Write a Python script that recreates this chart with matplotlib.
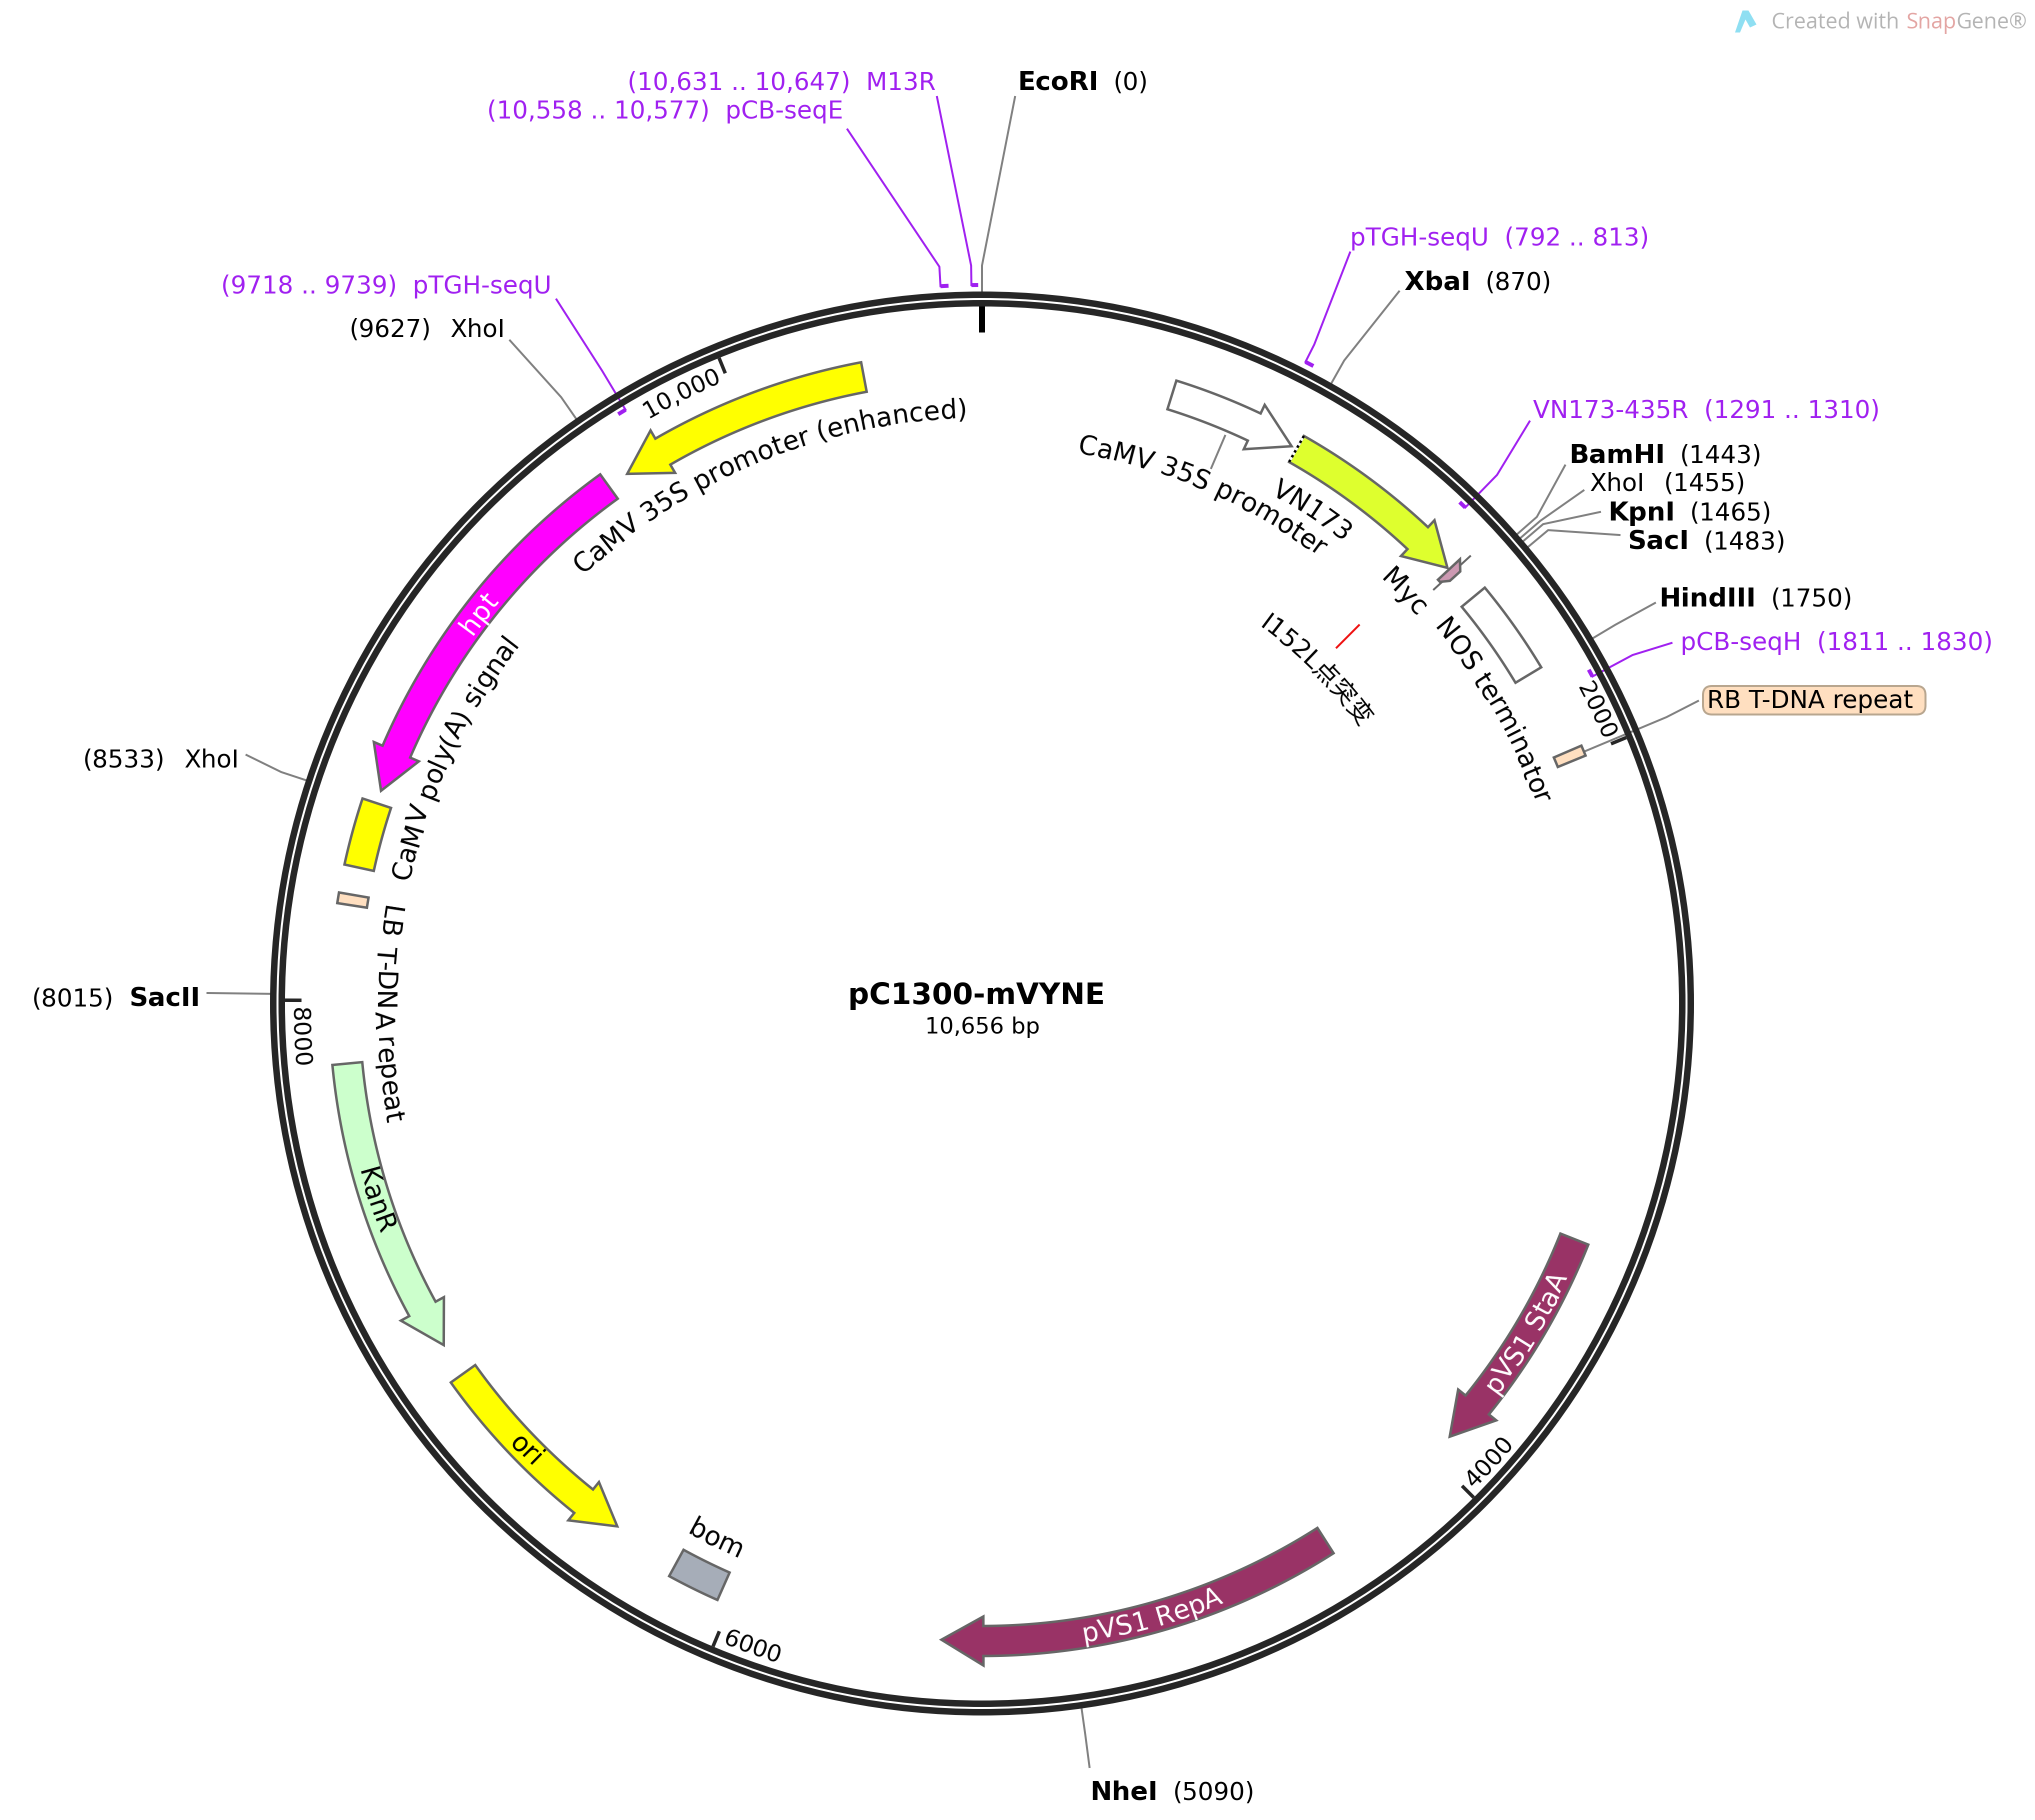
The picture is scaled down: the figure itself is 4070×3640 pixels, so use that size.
# pC1300-mVYNE plasmid map

import numpy as np
import matplotlib
matplotlib.use("Agg")
import matplotlib.pyplot as plt
from matplotlib.font_manager import FontProperties, findfont, get_font
from matplotlib.ft2font import LoadFlags
from matplotlib.patches import Circle, FancyBboxPatch, Polygon

plt.rcParams["font.family"] = ["DejaVu Sans", "Noto Sans CJK SC"]

plasmid_name = "pC1300-mVYNE"
plasmid_size = 10656
size_label = "10,656 bp"

# features, arrows run from start to end
arrow_names = ["CaMV 35S promoter (enhanced)", "hpt", "KanR", "ori", "pVS1 RepA",
               "pVS1 StaA", "CaMV 35S promoter", "VN173"]
arrow_start = [10340, 9596, 7832, 6941, 4363, 3306, 513, 875]
arrow_end = [9655, 8569, 7033, 6361, 5436, 3931, 860, 1388]
arrow_colors = ["#ffff00", "#ff00ff", "#ccffcc", "#ffff00", "#993366", "#993366", "#ffffff", "#deff2e"]

box_names = ["CaMV poly(A) signal", "LB T-DNA repeat", "bom", "NOS terminator", "RB T-DNA repeat"]
box_start = [8356, 8254, 6036, 1492, 1975]
box_end = [8534, 8282, 6176, 1746, 2003]
box_colors = ["#ffff00", "#ffdfc0", "#a6adb8", "#ffffff", "#ffdfc0"]

# restriction sites
site_names = ["EcoRI", "XbaI", "BamHI", "XhoI", "KpnI", "SacI", "HindIII", "NheI", "SacII", "XhoI", "XhoI"]
site_pos = [0, 870, 1443, 1455, 1465, 1483, 1750, 5090, 8015, 8533, 9627]
site_bold = [True, True, True, False, True, True, True, True, True, False, False]

# primers
primer_names = ["M13R", "pCB-seqE", "pTGH-seqU", "VN173-435R", "pCB-seqH", "pTGH-seqU"]
primer_start = [10631, 10558, 792, 1291, 1811, 9718]
primer_end = [10647, 10577, 813, 1310, 1830, 9739]
primer_inner = [False, False, False, True, True, True]
primer_range = ["(10,631 .. 10,647)", "(10,558 .. 10,577)", "(792 .. 813)", "(1291 .. 1310)",
                "(1811 .. 1830)", "(9718 .. 9739)"]

tick_values = [2000, 4000, 6000, 8000, 10000]
tick_labels = ["2000", "4000", "6000", "8000", "10,000"]

myc_start, myc_end = 1394, 1418
mutation_pos = 1329
mutation_label = "I152L点突变"

# layout, pixels of the 4070x3641 picture
CX, CY = 1964, 2008
R_OUT = 1424
R_FEAT = 1275
R_ELBOW = 1476
W, H = 4070, 3641
GRAY = "#808080"
EDGE = "#666666"
PURPLE = "#a020f0"
RING = "#262626"
px = 0.72  # one pixel in points at dpi 100
FS_H = 35.5
FS_BOLD = 37.5
FS_ARC = 38
FS_TICK = 34

# label text x, baseline y, leader end x, leader end y
site_layout = [(2035, 180, 2030, 195), (2809, 579, 2798, 584), (3138, 925, 3130, 932),
               (3180, 982, 3167, 982), (3216, 1041, 3200, 1025), (3255, 1099, 3239, 1071),
               (3318, 1213, 3310, 1207), (2180, 3600, 2179, 3535), (400, 2013, 415, 1987),
               (478, 1535, 493, 1511), (1010, 673, 1020, 682)]
primer_layout = [(1872, 180, 1874, 195), (1687, 237, 1695, 260), (2700, 491, 2700, 506),
                 (3066, 836, 3059, 844), (3361, 1300, 3343, 1287), (1103, 587, 1113, 600)]


def pt(bp, r):
    a = 2 * np.pi * np.asarray(bp, dtype=float) / plasmid_size
    return CX + r * np.sin(a), CY - r * np.cos(a)


def arc(bp0, bp1, r, n=80):
    x, y = pt(np.linspace(bp0, bp1, n), r)
    return np.column_stack([x, y])


def bp_len(length, r):
    return length / r / (2 * np.pi) * plasmid_size


def char_width(c, size, weight="normal"):
    if ord(c) >= 0x2E80:
        return size * 100 / 72
    font = get_font(findfont(FontProperties(family="DejaVu Sans", weight=weight)))
    font.set_size(size, 100)
    g = font.load_char(ord(c), flags=LoadFlags.NO_HINTING)
    return g.linearHoriAdvance / 65536


def arc_text(s, bp, r, flip=False, color="black", size=FS_ARC):
    # one character at a time so the label follows the circle
    w = [char_width(c, size) for c in s]
    off = np.cumsum([0] + w[:-1]) + np.array(w) / 2 - sum(w) / 2
    for c, o in zip(s, off):
        if c == " ":
            continue
        b = bp - bp_len(o, r) if flip else bp + bp_len(o, r)
        x, y = pt(b, r)
        deg = 360 * b / plasmid_size
        rot = 180 - deg if flip else -deg
        ax.text(x, y, c, fontsize=size, color=color, ha="center", va="baseline",
                rotation=rot, rotation_mode="anchor", zorder=6)


def arrow_poly(start, end, r=R_FEAT, w=60, hw=98, hl=84):
    sign = 1 if end > start else -1
    base = end - sign * bp_len(hl, r)
    pts = [arc(start, base, r + w / 2),
           np.array([pt(base, r + hw / 2)]),
           np.array([pt(end, r)]),
           np.array([pt(base, r - hw / 2)]),
           arc(base, start, r - w / 2)]
    return np.vstack(pts)


def box_poly(start, end, r=R_FEAT, w=60):
    return np.vstack([arc(start, end, r + w / 2, 40), arc(end, start, r - w / 2, 40)])


def text_w(s, **kw):
    t = ax.text(0, 0, s, **kw)
    wd = t.get_window_extent(fig.canvas.get_renderer()).width
    t.remove()
    return wd


fig = plt.figure(figsize=(W / 100, H / 100), dpi=100)
ax = fig.add_axes([0, 0, 1, 1])
ax.set_xlim(0, W)
ax.set_ylim(H, 0)
ax.axis("off")

# backbone
for r in [R_OUT - 6.5, R_OUT - 23.5]:
    ax.add_patch(Circle((CX, CY), r, fill=False, ec=RING, lw=13 * px, zorder=2))

# ticks
ax.plot(*zip(pt(0, R_OUT - 30), pt(0, R_OUT - 82)), color="black", lw=12 * px,
        solid_capstyle="butt", zorder=3)
for v, lab in zip(tick_values, tick_labels):
    ax.plot(*zip(pt(v, R_OUT - 30), pt(v, R_OUT - 63)), color=RING, lw=7 * px,
            solid_capstyle="butt", zorder=3)
    half = sum(char_width(c, FS_TICK) for c in lab) / 2 + 13
    b = v - bp_len(half, 1365)
    flip = 3000 < v < 8500
    arc_text(lab, b, 1381 if flip else 1348, flip=flip, size=FS_TICK)

# sites
for name, pos, bold, lay in zip(site_names, site_pos, site_bold, site_layout):
    tx, ty, ex, ey = lay
    p0, p1 = pt(pos, R_OUT), pt(pos, R_ELBOW)
    ax.plot([p0[0], p1[0], ex], [p0[1], p1[1], ey], color=GRAY, lw=4 * px, zorder=1)
    weight = "bold" if bold else "normal"
    fs = FS_BOLD if bold else FS_H
    wd = text_w(name, fontsize=fs, weight=weight)
    gap = 30 if bold else 38
    if pos > plasmid_size / 2 + 500:
        ax.text(tx, ty, name, fontsize=fs, weight=weight, ha="right", va="baseline")
        ax.text(tx - wd - gap, ty, f"({pos})", fontsize=FS_H, ha="right", va="baseline")
    else:
        ax.text(tx, ty, name, fontsize=fs, weight=weight, ha="left", va="baseline")
        ax.text(tx + wd + gap, ty, f"({pos})", fontsize=FS_H, ha="left", va="baseline")

# primers
for name, s, e, inner, rng, lay in zip(primer_names, primer_start, primer_end, primer_inner,
                                       primer_range, primer_layout):
    tx, ty, ex, ey = lay
    r = 1385 if inner else 1437
    attach = e if inner else s
    bar = arc(s, e, r, 10)
    ax.plot(bar[:, 0], bar[:, 1], color=PURPLE, lw=8 * px, solid_capstyle="butt", zorder=3)
    p0, p1 = pt(attach, r), pt(attach, R_ELBOW)
    ax.plot([p0[0], p1[0], ex], [p0[1], p1[1], ey], color=PURPLE, lw=4 * px, zorder=1)
    if tx < CX:
        ax.text(tx, ty, f"{rng}  {name}", fontsize=FS_H, color=PURPLE, ha="right", va="baseline")
    else:
        ax.text(tx, ty, f"{name}  {rng}", fontsize=FS_H, color=PURPLE, ha="left", va="baseline")

# arrows and boxes
for s, e, col in zip(arrow_start, arrow_end, arrow_colors):
    ax.add_patch(Polygon(arrow_poly(s, e), closed=True, fc=col, ec=EDGE, lw=5 * px,
                         joinstyle="miter", zorder=4))
for s, e, col in zip(box_start, box_end, box_colors):
    ax.add_patch(Polygon(box_poly(s, e), closed=True, fc=col, ec=EDGE, lw=5 * px,
                         joinstyle="miter", zorder=4))

# dashed cut end of VN173
cut = [pt(arrow_start[7], R_FEAT - 30), pt(arrow_start[7], R_FEAT + 30)]
ax.plot(*zip(*cut), color="white", lw=5 * px, solid_capstyle="butt", zorder=5)
ax.plot(*zip(*cut), color="black", lw=5 * px, ls=(0, (1, 1.2)), zorder=5)

# Myc
myc = np.vstack([[pt(myc_start, R_FEAT + 30)], [pt(myc_end, R_FEAT + 14)],
                 [pt(myc_end, R_FEAT - 14)], [pt(myc_start + 8, R_FEAT - 30)], [pt(myc_start, R_FEAT - 30)]])
ax.add_patch(Polygon(myc, closed=True, fc="#cc99b2", ec=EDGE, lw=5 * px, zorder=5))
ax.plot(*zip(pt(myc_start + 12, R_FEAT - 49), pt(myc_start + 12, R_FEAT + 49)), color=EDGE,
        lw=4 * px, zorder=4)

# connector of the CaMV 35S promoter label
ax.plot(*zip(pt(686, 1165), pt(686, 1235)), color=GRAY, lw=4 * px, zorder=3)

# point mutation
ax.plot(*zip(pt(mutation_pos, 1005), pt(mutation_pos, 1068)), color="#ee1111", lw=4 * px, zorder=3)
arc_text(mutation_label, 1332, 936, size=36)

# RB T-DNA repeat label
rb_out, rb_elbow = pt(1992, 1305), pt(1992, 1484)
ax.plot([rb_out[0], rb_elbow[0], 3396], [rb_out[1], rb_elbow[1], 1403], color=GRAY, lw=4 * px, zorder=1)
ax.add_patch(FancyBboxPatch((3406, 1373), 445, 57, boxstyle="round,pad=0,rounding_size=18",
                            fc="#ffdfc0", ec="#b8a68f", lw=4 * px, zorder=3))
ax.text(3414, 1416, box_names[4], fontsize=FS_H, ha="left", va="baseline", zorder=6)

# labels on the circle
arc_text(arrow_names[0], 10000, 1173)
arc_text(arrow_names[1], 9111, 1258, color="white")
arc_text(arrow_names[2], 7459, 1292, flip=True)
arc_text(arrow_names[3], 6678, 1292, flip=True)
arc_text(arrow_names[4], 4869, 1292, flip=True, color="white")
arc_text(arrow_names[5], 3585, 1292, flip=True, color="white")
arc_text(arrow_names[6], 693, 1118)
arc_text(arrow_names[7], 1000, 1171)
arc_text("Myc", 1353, 1164)
arc_text(box_names[0], 8733, 1173)
arc_text(box_names[1], 7963, 1214, flip=True)
arc_text(box_names[2], 6110, 1212, flip=True)
arc_text(box_names[3], 1783, 1175)

# centre
ax.text(1953, 2008, plasmid_name, fontsize=42.5, weight="bold", ha="center", va="baseline")
ax.text(1965, 2067, size_label, fontsize=32.5, ha="center", va="baseline")

# SnapGene mark
ax.add_patch(Polygon([(3470, 66), (3485, 22), (3497, 22), (3513, 50), (3500, 56), (3491, 40), (3480, 66)],
                     closed=True, fc="#8fdff2", ec="none"))
x = 3543
for part, col, gap in [("Created with", "#b4b4b4", 14), ("Snap", "#e3a5a3", 0), ("Gene®", "#b4b4b4", 0)]:
    ax.text(x, 57, part, fontsize=31, family="Open Sans", color=col, ha="left", va="baseline")
    x += text_w(part, fontsize=31, family="Open Sans") + gap

fig.savefig("out.png", dpi=100, facecolor="white")
